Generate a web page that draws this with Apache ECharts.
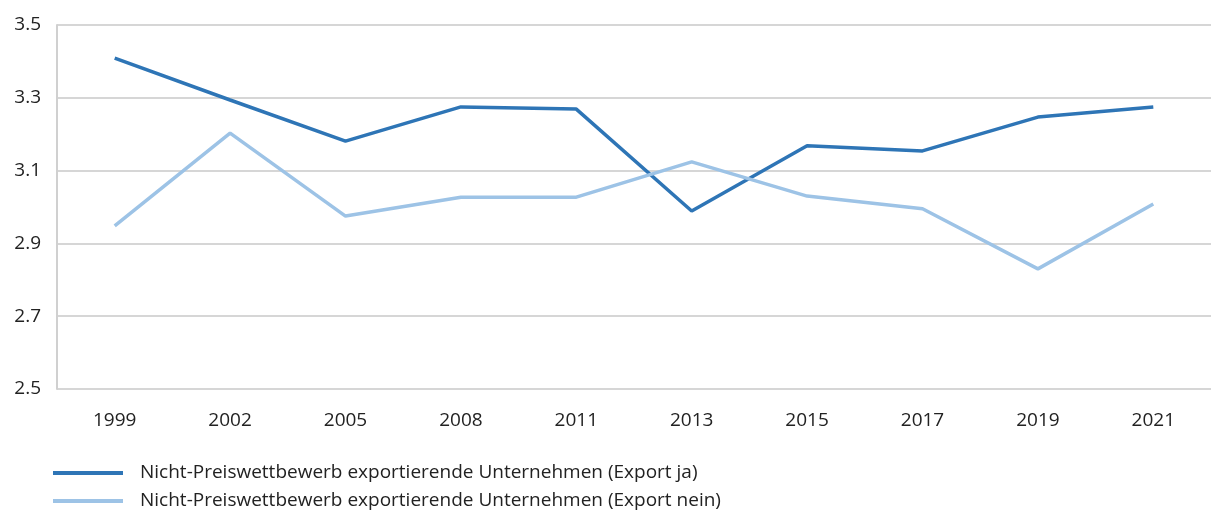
<!DOCTYPE html>
<html><head><meta charset="utf-8">
<script src="https://cdn.jsdelivr.net/npm/echarts@6/dist/echarts.min.js"></script>
<style>html,body{margin:0;padding:0;background:#fff}#c{width:1211px;height:511px}</style>
</head><body><div id="c"></div>
<script>
const categories = ['1999','2002','2005','2008','2011','2013','2015','2017','2019','2021'];
const seriesJaName = 'Nicht-Preiswettbewerb exportierende Unternehmen (Export ja)';
const seriesNeinName = 'Nicht-Preiswettbewerb exportierende Unternehmen (Export nein)';
const exportJa = [3.409, 3.294, 3.181, 3.275, 3.269, 2.989, 3.168, 3.154, 3.247, 3.275];
const exportNein = [2.948, 3.203, 2.975, 3.027, 3.027, 3.124, 3.030, 2.995, 2.830, 3.008];
const yMin = 2.5, yMax = 3.5, yStep = 0.2;

const font = '"Open Sans", "Noto Sans", sans-serif';
const legendText = {fontFamily:font, fontSize:19, lineHeight:20, color:'#222', padding:[0,0,0,12]};
const chart = echarts.init(document.getElementById('c'), null, {renderer:'canvas'});
chart.setOption({
  animation:false,
  grid:{left:57, right:0, top:25, bottom:122, containLabel:false},
  legend:[
    {left:53, top:463, padding:0, itemWidth:70, itemHeight:4, icon:'rect', textStyle:legendText, data:[seriesJaName]},
    {left:53, top:491, padding:0, itemWidth:70, itemHeight:4, icon:'rect', textStyle:legendText, data:[seriesNeinName]}
  ],
  xAxis:{
    type:'category', data:categories, boundaryGap:true,
    axisLine:{show:false}, axisTick:{show:false},
    axisLabel:{fontFamily:font, fontSize:19, color:'#222', margin:22}
  },
  yAxis:{
    type:'value', min:yMin, max:yMax, interval:yStep,
    axisLine:{show:true, lineStyle:{color:'#d0d0d0', width:2}},
    axisTick:{show:false},
    splitLine:{lineStyle:{color:'#d6d6d6', width:2}},
    axisLabel:{fontFamily:font, fontSize:19, color:'#222', margin:16, formatter:v=>v.toFixed(1)}
  },
  series:[
    {name:seriesJaName, type:'line', data:exportJa, symbol:'none', lineStyle:{color:'#2e75b6', width:3.5}, itemStyle:{color:'#2e75b6'}},
    {name:seriesNeinName, type:'line', data:exportNein, symbol:'none', lineStyle:{color:'#9dc3e6', width:3.5}, itemStyle:{color:'#9dc3e6'}}
  ]
});
</script></body></html>
